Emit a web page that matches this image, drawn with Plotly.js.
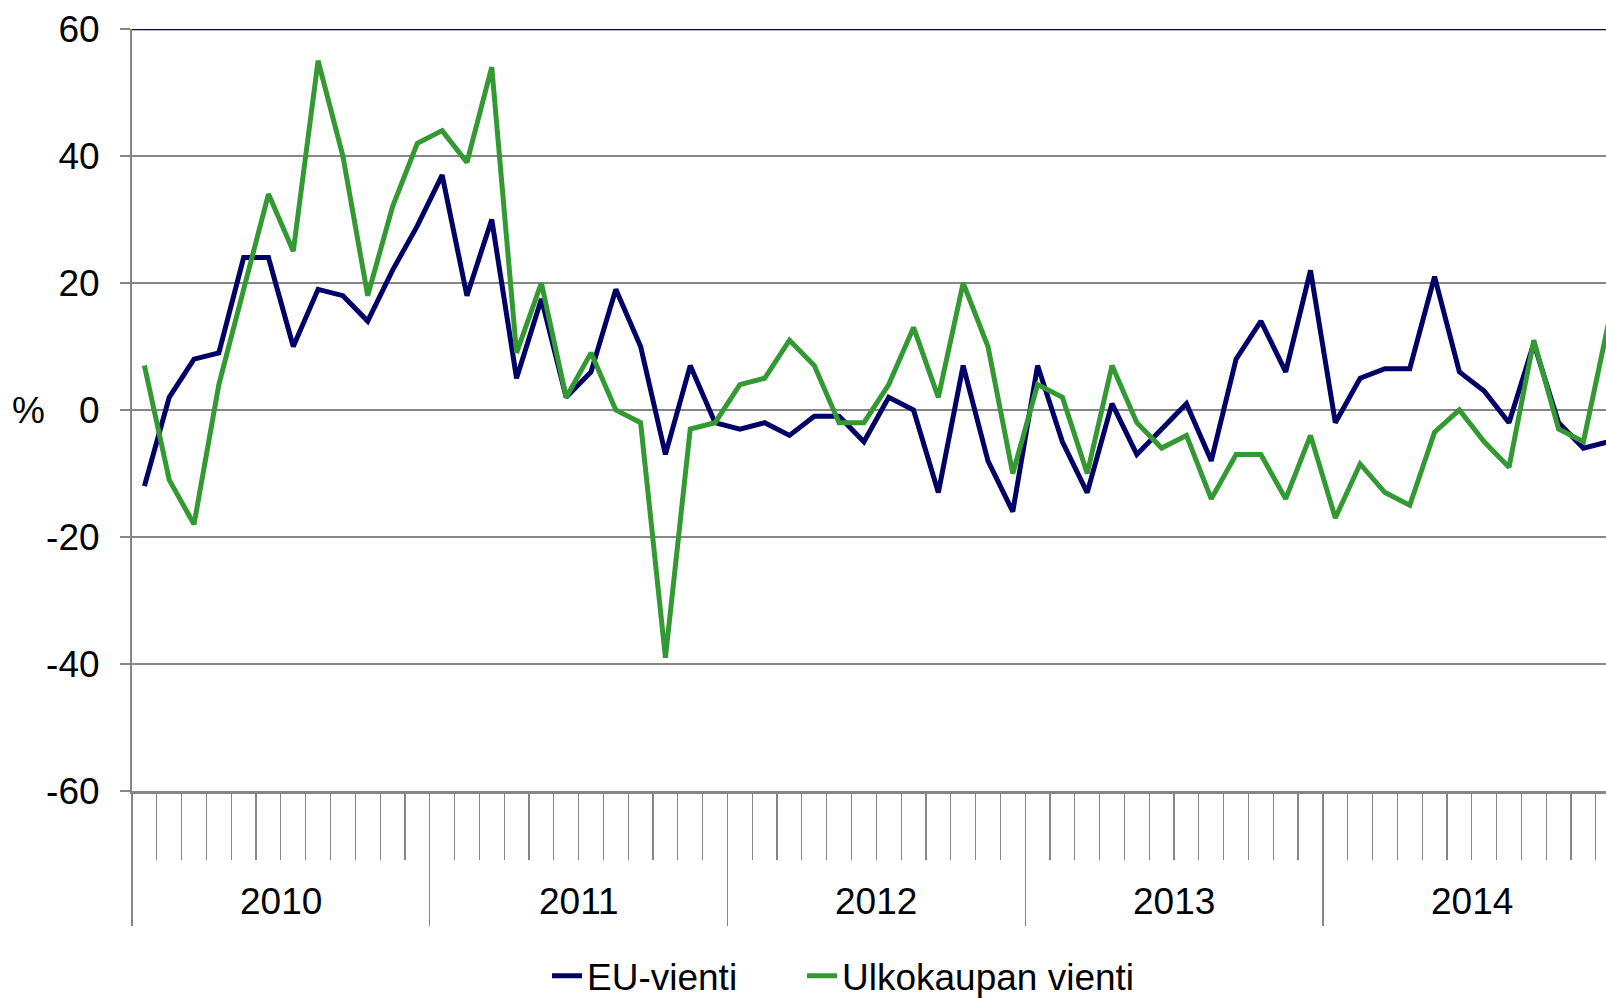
<!DOCTYPE html>
<html>
<head>
<meta charset="utf-8">
<script src="https://cdn.plot.ly/plotly-3.0.1.min.js"></script>
<style>
  html, body { margin: 0; padding: 0; overflow: hidden; background: #fff; }
  #chart { width: 1606px; height: 998px; }
</style>
</head>
<body>
<div id="chart"></div>
<script>
// ---- Data (monthly, Jan 2010 – Dec 2014) ----
const YEARS = ['2010', '2011', '2012', '2013', '2014'];
const SERIES_NAMES = ['EU-vienti', 'Ulkokaupan vienti'];
const Y_AXIS_LABEL = '%';
const Y_TICK_VALUES = [-60, -40, -20, 0, 20, 40, 60];
const Y_TICK_LABELS = ['-60', '-40', '-20', '0', '20', '40', '60'];

const EU_VIENTI = [
  -12, 2, 8, 9, 24, 24, 10, 19, 18, 14, 22, 29,
  37, 18, 30, 5, 17.5, 2, 6, 19, 10, -7, 7, -2,
  -3, -2, -4, -1, -1, -5, 2, 0, -13, 7, -8, -16,
  7, -5, -13, 1, -7, -3, 1, -8, 8, 14, 6, 22,
  -2, 5, 6.5, 6.5, 21, 6, 3, -2, 10.5, -2, -6, -5
];
const ULKOKAUPAN_VIENTI = [
  7, -11, -18, 4, 19, 34, 25, 55, 40, 18, 32, 42,
  44, 39, 54, 9, 20, 2, 9, 0, -2, -39, -3, -2,
  4, 5, 11, 7, -2, -2, 4, 13, 2, 20, 10, -10,
  4, 2, -10, 7, -2, -6, -4, -14, -7, -7, -14, -4,
  -17, -8.5, -13, -15, -3.5, 0, -5, -9, 11, -3, -5, 13.5
];

const MONTHS_PER_YEAR = 12;
const monthIndex = EU_VIENTI.map((_, i) => i);
const yearBoundaries = YEARS.map((_, k) => k * MONTHS_PER_YEAR - 0.5);
const yearCenters = YEARS.map((_, k) => k * MONTHS_PER_YEAR + (MONTHS_PER_YEAR - 1) / 2);

const FONT = 'Liberation Sans, Arial, sans-serif';
const NAVY = '#000066';
const GREEN = '#339933';
const GREY = '#868686';

const traces = [
  { x: monthIndex, y: EU_VIENTI, name: SERIES_NAMES[0], type: 'scatter', mode: 'lines',
    line: { color: NAVY, width: 5 }, hoverinfo: 'x+y', legend: 'legend' },
  { x: monthIndex, y: ULKOKAUPAN_VIENTI, name: SERIES_NAMES[1], type: 'scatter', mode: 'lines',
    line: { color: GREEN, width: 5 }, hoverinfo: 'x+y', legend: 'legend2' }
];

const ML = 132, MR = 0, MT = 28.7, MB = 207.3, W = 1606, H = 998;
const PW = W - ML - MR;

const annotations = YEARS.map((yr, k) => ({
  text: yr, x: yearCenters[k], xref: 'x', y: -0.1447, yref: 'paper',
  xanchor: 'center', yanchor: 'middle', showarrow: false,
  font: { family: FONT, size: 37, color: '#000' }
}));
annotations.push({
  text: Y_AXIS_LABEL, x: (28 - ML) / PW, xref: 'paper', xanchor: 'center',
  y: 0, yref: 'y', yanchor: 'middle', showarrow: false,
  font: { family: FONT, size: 37, color: '#000' }
});

const legendBase = {
  orientation: 'h', xanchor: 'left',
  y: -0.243, yanchor: 'middle', yref: 'paper',
  font: { family: FONT, size: 37, color: '#000' },
  bgcolor: 'rgba(0,0,0,0)', borderwidth: 0
};

const layout = {
  width: W, height: H,
  margin: { l: ML, r: MR, t: MT, b: MB, pad: 0, autoexpand: false },
  paper_bgcolor: '#fff', plot_bgcolor: '#fff',
  font: { family: FONT, size: 37, color: '#000' },
  showlegend: true,
  legend: Object.assign({}, legendBase, { x: (547 - ML) / PW }),
  legend2: Object.assign({}, legendBase, { x: (802 - ML) / PW }),
  xaxis: {
    type: 'linear', range: [-0.5, 58.91], fixedrange: true,
    showgrid: false, zeroline: false,
    showline: true, linecolor: GREY, linewidth: 3,
    tickmode: 'array', tickvals: yearBoundaries, ticks: 'outside', ticklen: 132,
    tickcolor: GREY, tickwidth: 1.2, showticklabels: false,
    minor: { tickmode: 'linear', tick0: -0.5, dtick: 1, ticks: 'outside', ticklen: 66,
             tickcolor: GREY, tickwidth: 1.2, showgrid: false }
  },
  yaxis: {
    range: [-60, 60], fixedrange: true,
    tickmode: 'array', tickvals: Y_TICK_VALUES, ticktext: Y_TICK_LABELS,
    showgrid: true, gridcolor: GREY, gridwidth: 2, zeroline: false,
    showline: true, linecolor: GREY, linewidth: 2,
    ticks: 'outside', ticklen: 10, tickcolor: GREY, tickwidth: 2,
    ticklabelstandoff: 13,
    tickfont: { family: FONT, size: 37, color: '#000' }
  },
  shapes: [{
    type: 'line', xref: 'paper', x0: 0, x1: 1, yref: 'y', y0: 60, y1: 60,
    line: { color: NAVY, width: 2.5 }, layer: 'above'
  }],
  annotations: annotations
};

Plotly.newPlot('chart', traces, layout, { displayModeBar: false, staticPlot: true });
</script>
</body>
</html>
